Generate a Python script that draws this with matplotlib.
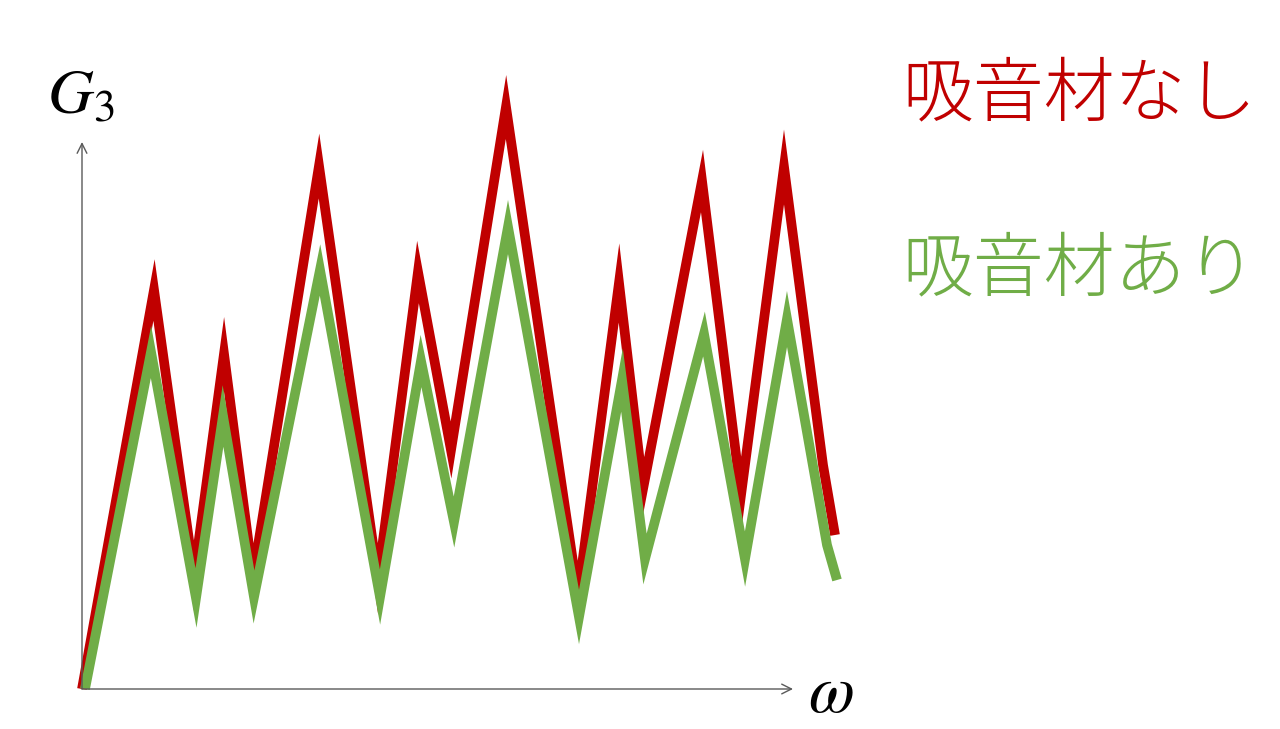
import matplotlib
matplotlib.use("Agg")
import matplotlib.pyplot as plt

# frequency (omega) and response G3, arbitrary units
omega_without = [0, 7.2, 11.2, 14.2, 17.1, 23.7, 29.6, 33.6, 36.9, 42.4,
                 49.6, 53.7, 56.1, 62.0, 65.9, 70.2, 74.1, 75.3]
g3_without = [0, 39.9, 11.3, 33.5, 11.2, 52.3, 11.0, 41.7, 23.9, 58.2,
              9.3, 40.6, 20.0, 50.8, 19.4, 52.2, 22.4, 15.4]

omega_with = [0.3, 6.9, 11.4, 14.1, 17.2, 23.8, 29.8, 33.9, 37.2, 42.6,
              49.7, 54.0, 56.3, 62.2, 66.3, 70.5, 74.5, 75.5]
g3_with = [0, 33.7, 9.1, 27.3, 9.2, 41.9, 9.2, 32.8, 16.7, 46.2,
           7.2, 30.9, 13.0, 35.5, 13.0, 37.0, 14.4, 10.9]

label_without = "吸音材なし"
label_with = "吸音材あり"

RED = "#C00000"
GREEN = "#70AD47"
AXIS = "#595959"

fig = plt.figure(figsize=(12.8, 7.29), dpi=100)
ax = fig.add_axes([0, 0, 1, 1])
ax.set_xlim(-8.2, 119.8)
ax.set_ylim(-4.0, 68.9)
ax.axis("off")

# axes with open arrow heads
arrow = dict(arrowstyle="->,head_length=0.7,head_width=0.35", color=AXIS,
             lw=1.0, shrinkA=0, shrinkB=0)
ax.annotate("", xy=(71.1, 0), xytext=(0, 0), arrowprops=arrow)
ax.annotate("", xy=(0, 54.7), xytext=(0, 0), arrowprops=arrow)

ax.plot(omega_without, g3_without, color=RED, lw=7,
        solid_joinstyle="miter", solid_capstyle="butt")
ax.plot(omega_with, g3_with, color=GREEN, lw=7,
        solid_joinstyle="miter", solid_capstyle="butt")

plt.rcParams["mathtext.fontset"] = "stix"
ax.text(-3.5, 57.6, r"$G_3$", fontsize=46, va="baseline", ha="left")
ax.text(72.6, -2.3, r"$\omega$", fontsize=48, va="baseline", ha="left")

jp = ["Noto Sans CJK JP", "DejaVu Sans"]
ax.text(82.0, 59.3, label_without, color=RED, fontsize=51, family=jp,
        fontweight="light", va="center", ha="left")
ax.text(82.0, 41.8, label_with, color=GREEN, fontsize=51, family=jp,
        fontweight="light", va="center", ha="left")

fig.savefig("out.png", dpi=100)
